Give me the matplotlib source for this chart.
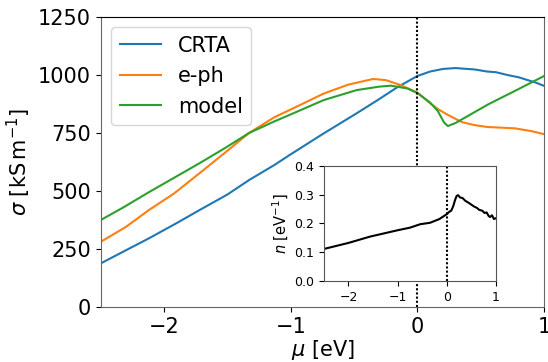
import matplotlib
matplotlib.use('Agg')
import matplotlib.pyplot as plt

# conductividad vs potencial quimico
mu_crta = [-2.5, -2.3, -2.12, -1.9, -1.72, -1.5, -1.33, -1.13, -1.01, -0.75, -0.48, -0.3, -0.16, 0.0,
           0.1, 0.2, 0.3, 0.37, 0.45, 0.55, 0.62, 0.71, 0.8, 0.87, 0.93, 1.0]
sig_crta = [188, 245, 296, 362, 418, 485, 547, 612, 655, 745, 835, 897, 947, 996,
            1015, 1026, 1030, 1027, 1024, 1015, 1012, 1000, 990, 978, 968, 953]

mu_eph = [-2.5, -2.3, -2.12, -1.92, -1.72, -1.52, -1.33, -1.13, -1.01, -0.74, -0.55, -0.35, -0.25, -0.135,
          0.0, 0.1, 0.17, 0.24, 0.35, 0.45, 0.55, 0.77, 0.9, 1.0]
sig_eph = [281, 346, 418, 490, 577, 665, 750, 818, 849, 920, 958, 983, 978, 957,
           924, 878, 850, 828, 797, 784, 776, 770, 758, 745]

mu_model = [-2.5, -2.32, -2.12, -1.72, -1.52, -1.33, -1.13, -1.01, -0.74, -0.48, -0.3, -0.21, -0.08, 0.0,
            0.1, 0.16, 0.21, 0.24, 0.3, 0.56, 0.8, 1.0]
sig_model = [375, 430, 495, 620, 685, 750, 800, 828, 892, 935, 950, 954, 942, 922,
             881, 845, 795, 780, 793, 874, 940, 996]

# densidad de estados (inset)
mu_n = [-2.5, -2.0, -1.56, -1.0, -0.75, -0.54, -0.34, -0.15, 0.0, 0.05, 0.09, 0.13, 0.17, 0.2, 0.23,
        0.27, 0.32, 0.38, 0.44, 0.5, 0.56, 0.61, 0.66, 0.72, 0.77, 0.81, 0.85, 0.88, 0.92, 0.96, 1.0]
n_val = [0.111, 0.132, 0.154, 0.176, 0.185, 0.197, 0.202, 0.215, 0.232, 0.24, 0.244, 0.259, 0.282, 0.295, 0.298,
         0.29, 0.288, 0.278, 0.272, 0.265, 0.258, 0.254, 0.247, 0.244, 0.236, 0.238, 0.226, 0.222, 0.228, 0.215, 0.218]

fig = plt.figure(figsize=(5.48, 3.62), dpi=100)
ax = fig.add_axes([0.184, 0.152, 0.809, 0.801])
ax.plot(mu_crta, sig_crta, color='#1f77b4', lw=1.5, label='CRTA')
ax.plot(mu_eph, sig_eph, color='#ff7f0e', lw=1.5, label='e-ph')
ax.plot(mu_model, sig_model, color='#2ca02c', lw=1.5, label='model')
ax.axvline(0, color='k', ls=(0, (1, 1)), lw=1.5)
ax.set_xlim(-2.5, 1)
ax.set_ylim(0, 1250)
ax.set_xticks([-2, -1, 0, 1])
ax.set_yticks([0, 250, 500, 750, 1000, 1250])
ax.tick_params(labelsize=15)
ax.set_xlabel(r'$\mu$ [eV]', fontsize=15, labelpad=1)
ax.set_ylabel(r'$\sigma$ [$\mathrm{kS\,m^{-1}}$]', fontsize=15)
for s in ['left', 'right', 'bottom']:
    ax.spines[s].set_color('#666666')
ax.legend(loc='upper left', fontsize=15)

ins = fig.add_axes([0.591, 0.224, 0.314, 0.318])
ins.plot(mu_n, n_val, color='k', lw=1.5)
ins.axvline(0, color='k', ls=(0, (1, 1)), lw=1.5)
ins.set_xlim(-2.5, 1)
ins.set_ylim(0, 0.4)
ins.set_xticks([-2, -1, 0, 1])
ins.set_yticks([0.0, 0.1, 0.2, 0.3, 0.4])
ins.tick_params(labelsize=9)
ins.set_ylabel(r'$n$ [eV$^{-1}$]', fontsize=10.5, labelpad=2)
for s in ins.spines.values():
    s.set_color('#555555')

plt.savefig('out.png', dpi=100)
